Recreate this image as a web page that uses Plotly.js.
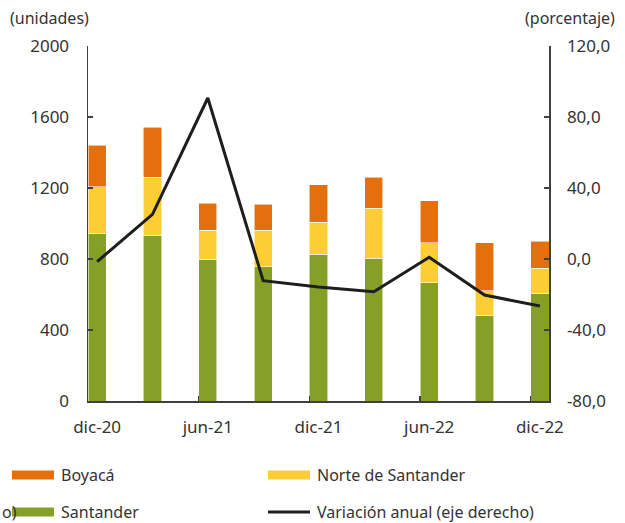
<!DOCTYPE html>
<html>
<head>
<meta charset="utf-8">
<script src="https://cdn.plot.ly/plotly-3.0.1.min.js"></script>
<style>
html,body{margin:0;padding:0;background:#fff;}
#chart{width:625px;height:523px;}
</style>
</head>
<body>
<div id="chart"></div>
<script>
// ---- data ----
const categories = ["dic-20","mar-21","jun-21","sep-21","dic-21","mar-22","jun-22","sep-22","dic-22"];
const santander = [945, 935, 798, 755, 827, 804, 667, 481, 603];
const norteSantander = [262, 325, 165, 208, 180, 282, 225, 139, 145];
const boyaca = [233, 282, 151, 145, 210, 176, 235, 272, 152];
const variacionAnual = [-1.5, 25.2, 90.7, -12.2, -15.8, -18.4, 1.0, -20.3, -26.5];
const xTickLabels = ["dic-20","jun-21","dic-21","jun-22","dic-22"];
const y2TickVals = [-80, -40, 0, 40, 80, 120];
const y2TickText = ["-80,0", "-40,0", "0,0", "40,0", "80,0", "120,0"];
const seriesNames = ["Boyacá", "Norte de Santander", "Santander", "Variación anual (eje derecho)"];

// ---- style ----
const C_BOY = "#E4700D", C_NOR = "#FDCE33", C_SAN = "#86A027", C_LINE = "#1E1E1E";
const FONT = "Noto Sans";
const TXT = "#333333";
const AX = "#404040";

const W = 625, H = 523;
const M = {l: 88, r: 76, t: 46, b: 122};
const PW = W - M.l - M.r, PH = H - M.t - M.b;
const px = x => (x - M.l) / PW;
const py = y => (H - M.b - y) / PH;

const barW = 0.33;
const xIdx = categories.map((_, i) => i);
const xr = [-barW/2, categories.length - 1 + barW/2];

const barLine = {color: "rgba(255,255,255,0.7)", width: 0.8};
const traces = [
  {type: "bar", name: seriesNames[2], x: xIdx, y: santander, width: barW, marker: {color: C_SAN, line: barLine}, showlegend: false, hoverinfo: "y"},
  {type: "bar", name: seriesNames[1], x: xIdx, y: norteSantander, width: barW, marker: {color: C_NOR, line: barLine}, showlegend: false, hoverinfo: "y"},
  {type: "bar", name: seriesNames[0], x: xIdx, y: boyaca, width: barW, marker: {color: C_BOY, line: barLine}, showlegend: false, hoverinfo: "y"},
  {type: "scatter", mode: "lines", name: seriesNames[3], x: xIdx, y: variacionAnual, yaxis: "y2", line: {color: C_LINE, width: 3}, showlegend: false, hoverinfo: "y"}
];

// legend drawn manually with shapes + annotations
const shapes = [];
const annotations = [];
function legendBar(x0, x1, yc, color, text) {
  shapes.push({type: "rect", xref: "paper", yref: "paper", x0: px(x0), x1: px(x1), y0: py(yc + 4.5), y1: py(yc - 4.5), fillcolor: color, line: {width: 0}});
  annotations.push({xref: "paper", yref: "paper", x: px(x1 + 5), y: py(yc), xanchor: "left", yanchor: "middle", text: text, showarrow: false, font: {family: FONT, size: 16, color: TXT}});
}
function legendLine(x0, x1, yc, color, text) {
  shapes.push({type: "line", xref: "paper", yref: "paper", x0: px(x0), x1: px(x1), y0: py(yc), y1: py(yc), line: {color: color, width: 3}});
  annotations.push({xref: "paper", yref: "paper", x: px(x1 + 5), y: py(yc), xanchor: "left", yanchor: "middle", text: text, showarrow: false, font: {family: FONT, size: 16, color: TXT}});
}
legendBar(12, 54, 475, C_BOY, seriesNames[0]);
legendBar(268, 310, 475, C_NOR, seriesNames[1]);
legendBar(12, 54, 512, C_SAN, seriesNames[2]);
legendLine(268, 310, 512, C_LINE, seriesNames[3]);
// cut-off text at left edge of original
annotations.push({xref: "paper", yref: "paper", x: px(0), y: py(512), xanchor: "left", yanchor: "middle", text: "o)", showarrow: false, font: {family: FONT, size: 16, color: TXT}});
// axis unit labels
annotations.push({xref: "paper", yref: "paper", x: px(8), y: py(18), xanchor: "left", yanchor: "middle", text: "(unidades)", showarrow: false, font: {family: FONT, size: 16, color: TXT}});
annotations.push({xref: "paper", yref: "paper", x: px(617), y: py(18), xanchor: "right", yanchor: "middle", text: "(porcentaje)", showarrow: false, font: {family: FONT, size: 16, color: TXT}});

const TF = {family: FONT, size: 17, color: TXT};
const layout = {
  width: W, height: H,
  margin: M,
  paper_bgcolor: "#fff", plot_bgcolor: "#fff",
  barmode: "stack",
  showlegend: false,
  font: {family: FONT, size: 16, color: TXT},
  xaxis: {
    type: "linear", range: xr, fixedrange: true,
    tickvals: [0, 2, 4, 6, 8], ticktext: xTickLabels,
    ticks: "", showgrid: false, zeroline: false,
    showline: true, linecolor: AX, linewidth: 1.5,
    ticklabelstandoff: 10,
    tickfont: TF
  },
  xaxis2: {
    type: "linear", range: xr, overlaying: "x", anchor: "y", side: "bottom",
    tickvals: [2 - barW/2, 4 - barW/2, 6 - barW/2, 8 - barW/2],
    ticks: "inside", ticklen: 5, tickcolor: AX, tickwidth: 1.5,
    showticklabels: false, showgrid: false, zeroline: false, showline: false
  },
  yaxis: {
    range: [0, 2000], dtick: 400, tick0: 0,
    ticks: "inside", ticklen: 5, tickcolor: AX, tickwidth: 1.5,
    showgrid: false, zeroline: false,
    showline: true, linecolor: AX, linewidth: 1.5,
    ticklabelstandoff: 14,
    tickfont: TF
  },
  yaxis2: {
    overlaying: "y", side: "right", anchor: "x",
    range: [-80, 120], tickvals: y2TickVals, ticktext: y2TickText,
    ticks: "inside", ticklen: 5, tickcolor: AX, tickwidth: 1.5,
    showgrid: false, zeroline: false,
    showline: true, linecolor: AX, linewidth: 1.5,
    ticklabelstandoff: 13,
    tickfont: TF
  },
  shapes: shapes,
  annotations: annotations
};

// empty trace to activate xaxis2 for tick marks (no visible marks)
traces.push({type: "scatter", x: [], y: [], xaxis: "x2", yaxis: "y", showlegend: false, hoverinfo: "skip"});

Plotly.newPlot("chart", traces, layout, {staticPlot: true, displayModeBar: false});
</script>
</body>
</html>
